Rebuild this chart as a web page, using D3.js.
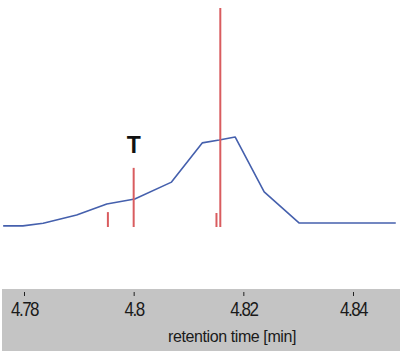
<!DOCTYPE html>
<html>
<head>
<meta charset="utf-8">
<script src="https://cdn.jsdelivr.net/npm/d3@7"></script>
<style>
body { margin: 0; background: #fff; }
svg { display: block; }
</style>
</head>
<body>
<svg id="chart" width="400" height="351"></svg>
<script>
// chromatogram trace (retention time in min, intensity in % of tallest stick)
var traceTime = [4.7762, 4.7798, 4.7835, 4.7896, 4.7951, 4.8002, 4.8069, 4.8125, 4.8156, 4.8185, 4.8238, 4.8302, 4.8478];
var traceInt  = [0.5, 0.5, 1.7, 5.5, 10.5, 12.8, 20.5, 38.4, 39.7, 41.1, 16.0, 1.8, 1.8];
// sticks
var stickTime = [4.7953, 4.8000, 4.8151, 4.8158];
var stickInt  = [6.8, 27.0, 6.4, 100];
var stickLabel = ["", "T", "", ""];
var tickVals = [4.78, 4.80, 4.82, 4.84];
var xTitle = "retention time [min]";

var svg = d3.select("#chart");
var W = 400, H = 351;

var x = d3.scaleLinear().domain([4.78, 4.84]).range([24, 353]);
var y = d3.scaleLinear().domain([0, 100]).range([227, 8]);

// gray axis band
svg.append("rect")
	.attr("x", 2).attr("y", 289)
	.attr("width", W - 2).attr("height", H - 289)
	.attr("fill", "#c4c4c4");

var pts = traceTime.map(function(t, i){ return [t, traceInt[i]]; });
var line = d3.line()
	.x(function(d){ return x(d[0]); })
	.y(function(d){ return y(d[1]); });

svg.append("path")
	.datum(pts)
	.attr("fill", "none")
	.attr("stroke", "#4560ad")
	.attr("stroke-width", 1.6)
	.attr("stroke-linejoin", "round")
	.attr("d", line);

svg.selectAll("line.stick")
	.data(stickTime)
	.enter().append("line")
	.attr("class", "stick")
	.attr("x1", function(d){ return x(d); })
	.attr("x2", function(d){ return x(d); })
	.attr("y1", y(0))
	.attr("y2", function(d, i){ return y(stickInt[i]); })
	.attr("stroke", "#d95c5f")
	.attr("stroke-width", 2);

svg.selectAll("text.slabel")
	.data(stickTime)
	.enter().append("text")
	.attr("class", "slabel")
	.attr("x", function(d){ return x(d); })
	.attr("y", function(d, i){ return y(stickInt[i]) - 15; })
	.attr("text-anchor", "middle")
	.attr("font-family", "Liberation Sans, Arial, sans-serif")
	.attr("font-weight", "bold")
	.attr("font-size", 23)
	.attr("fill", "#111")
	.text(function(d, i){ return stickLabel[i]; });

var xAxis = d3.axisBottom(x)
	.tickValues(tickVals)
	.tickFormat(d3.format(""))
	.tickSize(4);

var g = svg.append("g")
	.attr("transform", "translate(0,292)")
	.call(xAxis);
g.select(".domain").remove();
g.selectAll(".tick line").attr("stroke", "#222");
// labels look vertically stretched in the original
g.selectAll(".tick text")
	.attr("y", 0)
	.attr("dy", 0)
	.attr("transform", "translate(0,24) scale(1,1.15)")
	.attr("fill", "#1a1a1a")
	.attr("font-family", "Liberation Sans, Arial, sans-serif")
	.attr("font-size", 17)
	.attr("letter-spacing", -1.5);

svg.append("text")
	.attr("x", 232)
	.attr("y", 342)
	.attr("text-anchor", "middle")
	.attr("font-family", "Liberation Sans, Arial, sans-serif")
	.attr("font-size", 16)
	.attr("letter-spacing", -0.4)
	.attr("fill", "#1a1a1a")
	.text(xTitle);
</script>
</body>
</html>
